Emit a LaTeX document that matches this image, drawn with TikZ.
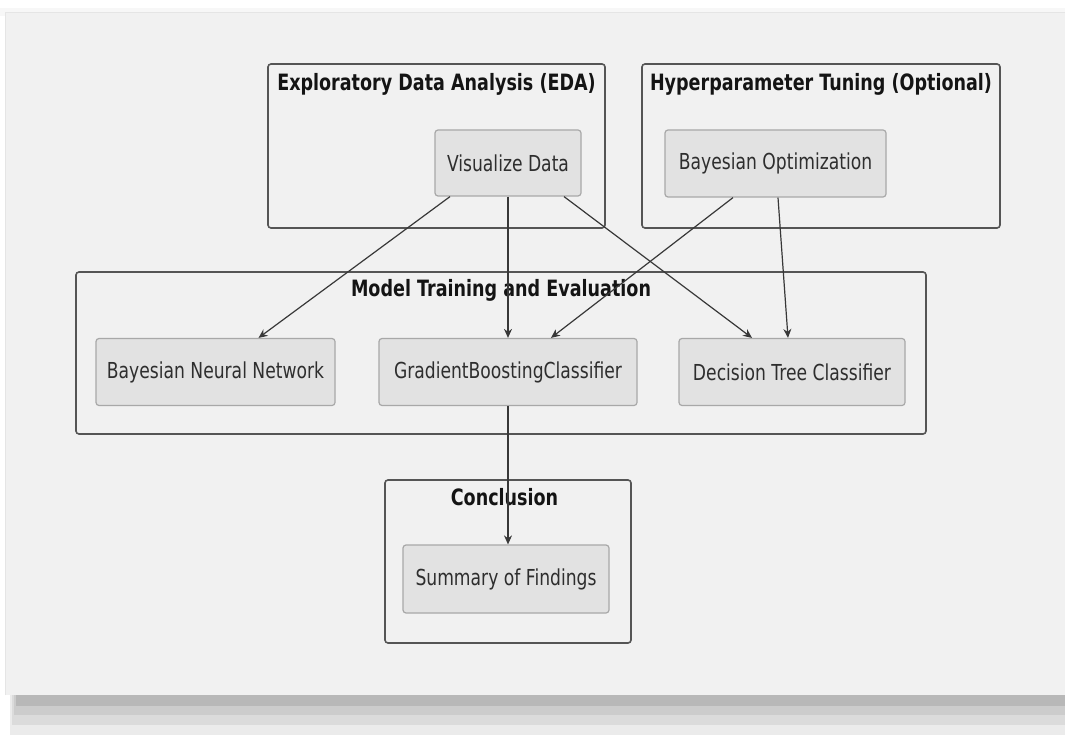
\documentclass[tikz,border=0pt]{standalone}
\usepackage{fontspec}
\setmainfont{DejaVu Sans}[FakeStretch=0.78]
\usetikzlibrary{calc,arrows.meta}
\definecolor{panel}{HTML}{F1F1F1}
\definecolor{nodefill}{HTML}{E2E2E2}
\definecolor{nodeline}{HTML}{A8A8A8}
\definecolor{clusterline}{HTML}{555555}
\definecolor{edgecol}{HTML}{383838}
\tikzset{
  x=1pt, y=-1pt,
  cluster/.style={draw=clusterline, line width=1.6pt, rounded corners=3pt, inner sep=0pt},
  cltitle/.style={font=\bfseries\fontsize{22.5}{26}\selectfont, text=black!92, inner sep=0pt},
  task/.style={draw=nodeline, fill=nodefill, line width=1.2pt, rounded corners=3pt, inner sep=0pt,
     font=\fontsize{22}{26}\selectfont, text=black!82},
  flow/.style={draw=edgecol, line width=1.2pt, -{Stealth[length=9pt,width=8pt]}},
}
\begin{document}
\begin{tikzpicture}
\useasboundingbox (0,0) rectangle (1065,735);
% page + shadow
\fill[white] (0,0) rectangle (1065,735);
\fill[black!8] (10,695) rectangle (1065,735);
\fill[black!14] (12,695) rectangle (1065,725);
\fill[black!20] (14,695) rectangle (1065,715);
\fill[black!28] (16,695) rectangle (1065,706);
\fill[black!3] (0,8) rectangle (1065,16);
\fill[panel] (5,12) rectangle (1065,695);
\draw[black!10, line width=0.8pt] (5,695) -- (5,12) -- (1065,12);

% clusters
\node[cluster, minimum width=337pt, minimum height=164pt] (eda) at (436.5,146) {};
\node[cltitle] (edat) at ($(eda.north)+(0,21)$) {Exploratory Data Analysis (EDA)};
\node[cluster, minimum width=358pt, minimum height=164pt] (hyp) at (821,146) {};
\node[cltitle] (hypt) at ($(hyp.north)+(0,21)$) {Hyperparameter Tuning (Optional)};
\node[cluster, minimum width=850pt, minimum height=162pt] (mte) at (501,353) {};
\node[cltitle] (mtet) at ($(mte.north)+(0,19)$) {Model Training and Evaluation};
\node[cluster, minimum width=246pt, minimum height=163pt] (con) at (508,561.5) {};
\node[cltitle] (cont) at ($(con.north)+(-3.5,18)$) {Conclusion};

% tasks
\node[task, minimum width=146pt, minimum height=66pt] (viz) at (508,163) {Visualize Data};
\node[task, minimum width=221pt, minimum height=67pt] (bopt) at (775.5,163.5) {Bayesian Optimization};
\node[task, minimum width=239pt, minimum height=67pt] (bnn) at (215.5,372) {Bayesian Neural Network};
\node[task, minimum width=258pt, minimum height=67pt] (gbc) at (508,372) {GradientBoostingClassifier};
\node[task, minimum width=226pt, minimum height=67pt] (dtc) at (792,372) {Decision Tree Classifier};
\node[task, minimum width=206pt, minimum height=68pt] (sum) at (506,579) {Summary of Findings};

% edges
\draw[flow] ($(viz.south)+(-58,0)$) -- ($(bnn.north)+(43,0)$);
\draw[flow] ($(viz.south)+(0,0)$) -- ($(gbc.north)+(0,0)$);
\draw[flow] ($(viz.south)+(56,0)$) -- ($(dtc.north)+(-40,0)$);
\draw[flow] ($(bopt.south)+(-42.5,0)$) -- ($(gbc.north)+(43,0)$);
\draw[flow] ($(bopt.south)+(2.5,0)$) -- ($(dtc.north)+(-4,0)$);
\draw[flow] ($(gbc.south)+(0,0)$) -- ($(sum.north)+(2,0)$);
\end{tikzpicture}
\end{document}
